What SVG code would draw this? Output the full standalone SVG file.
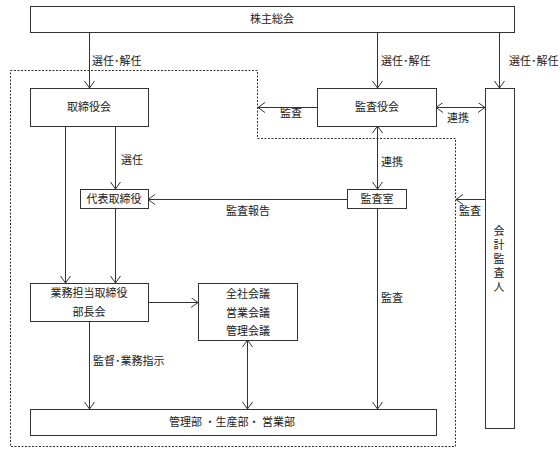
<svg xmlns="http://www.w3.org/2000/svg" width="560" height="463" viewBox="0 0 560 463">
<style>
.box{fill:#fff;stroke:#333;stroke-width:1}
.dash{fill:none;stroke:#333;stroke-width:1;stroke-dasharray:2,1.5}
.ln{fill:none;stroke:#333;stroke-width:1}
.a{marker-end:url(#ah)}
.b{marker-start:url(#as);marker-end:url(#ah)}
text{font-family:"Noto Sans CJK JP","Noto Sans CJK SC",sans-serif;font-size:11px;fill:#222}
.c{text-anchor:middle}
.v{writing-mode:vertical-rl;letter-spacing:3px}
</style>
<defs>
<marker id="ah" markerUnits="userSpaceOnUse" markerWidth="12" markerHeight="12" refX="7" refY="5" orient="auto"><path d="M0,0 L7,5 L0,10" fill="none" stroke="#333" stroke-width="1"/></marker>
<marker id="as" markerUnits="userSpaceOnUse" markerWidth="12" markerHeight="12" refX="0" refY="5" orient="auto"><path d="M7,0 L0,5 L7,10" fill="none" stroke="#333" stroke-width="1"/></marker>
</defs>
<rect width="560" height="463" fill="#fff"/>
<path class="dash" d="M10.5,70.5 H257.5 V138.5 H455.5 V446.5 H10.5 Z"/>
<g id="connectors">
<line class="ln a" x1="89.5" y1="32" x2="89.5" y2="88"/>
<line class="ln a" x1="377.5" y1="32" x2="377.5" y2="88"/>
<line class="ln a" x1="499.5" y1="32" x2="499.5" y2="88"/>
<line class="ln a" x1="317" y1="107.5" x2="258" y2="107.5"/>
<line class="ln b" x1="436" y1="107.5" x2="485" y2="107.5"/>
<line class="ln a" x1="65.5" y1="126" x2="65.5" y2="283"/>
<line class="ln a" x1="115.5" y1="126" x2="115.5" y2="189"/>
<line class="ln a" x1="115.5" y1="208" x2="115.5" y2="283"/>
<line class="ln b" x1="377.5" y1="126" x2="377.5" y2="189"/>
<line class="ln a" x1="347" y1="199.5" x2="148" y2="199.5"/>
<line class="ln a" x1="485" y1="199.5" x2="456" y2="199.5"/>
<line class="ln a" x1="377.5" y1="208" x2="377.5" y2="409"/>
<line class="ln a" x1="148" y1="302.5" x2="198" y2="302.5"/>
<line class="ln b" x1="247.5" y1="340" x2="247.5" y2="409"/>
<line class="ln a" x1="89.5" y1="321" x2="89.5" y2="409"/>
<text x="92" y="65">選任･解任</text>
<text x="381" y="65">選任･解任</text>
<text x="509" y="65">選任･解任</text>
<text x="280" y="117">監査</text>
<text x="447" y="122">連携</text>
<text x="121" y="164">選任</text>
<text x="381" y="166">連携</text>
<text x="226" y="215">監査報告</text>
<text x="459" y="215">監査</text>
<text x="381" y="302">監査</text>
<text x="93" y="365">監督･業務指示</text>
</g>
<g id="kabunushi"><rect class="box" x="30.5" y="6.5" width="484" height="26"/><text class="c" x="272" y="23">株主総会</text></g>
<g id="torishimariyakukai"><rect class="box" x="30.5" y="88.5" width="118" height="38"/><text class="c" x="89" y="111">取締役会</text></g>
<g id="kansayakukai"><rect class="box" x="317.5" y="88.5" width="119" height="38"/><text class="c" x="377" y="111">監査役会</text></g>
<g id="kaikeikansanin"><rect class="box" x="485.5" y="88.5" width="29" height="340"/>
<text class="v" x="499" y="225">会計監査人</text></g>
<g id="daihyo"><rect class="box" x="80.5" y="189.5" width="68" height="19"/><text class="c" x="114" y="203">代表取締役</text></g>
<g id="kansashitsu"><rect class="box" x="347.5" y="189.5" width="59" height="19"/><text class="c" x="377" y="203">監査室</text></g>
<g id="gyomu"><rect class="box" x="30.5" y="283.5" width="118" height="38"/><text class="c" x="89" y="297">業務担当取締役</text><text class="c" x="89" y="316">部長会</text></g>
<g id="kaigi"><rect class="box" x="198.5" y="283.5" width="99" height="57"/><text class="c" x="248" y="298">全社会議</text><text class="c" x="248" y="317">営業会議</text><text class="c" x="248" y="335">管理会議</text></g>
<g id="bumon"><rect class="box" x="30.5" y="409.5" width="406" height="26"/><text class="c" x="232" y="426">管理部 ・生産部・ 営業部</text></g>
</svg>
